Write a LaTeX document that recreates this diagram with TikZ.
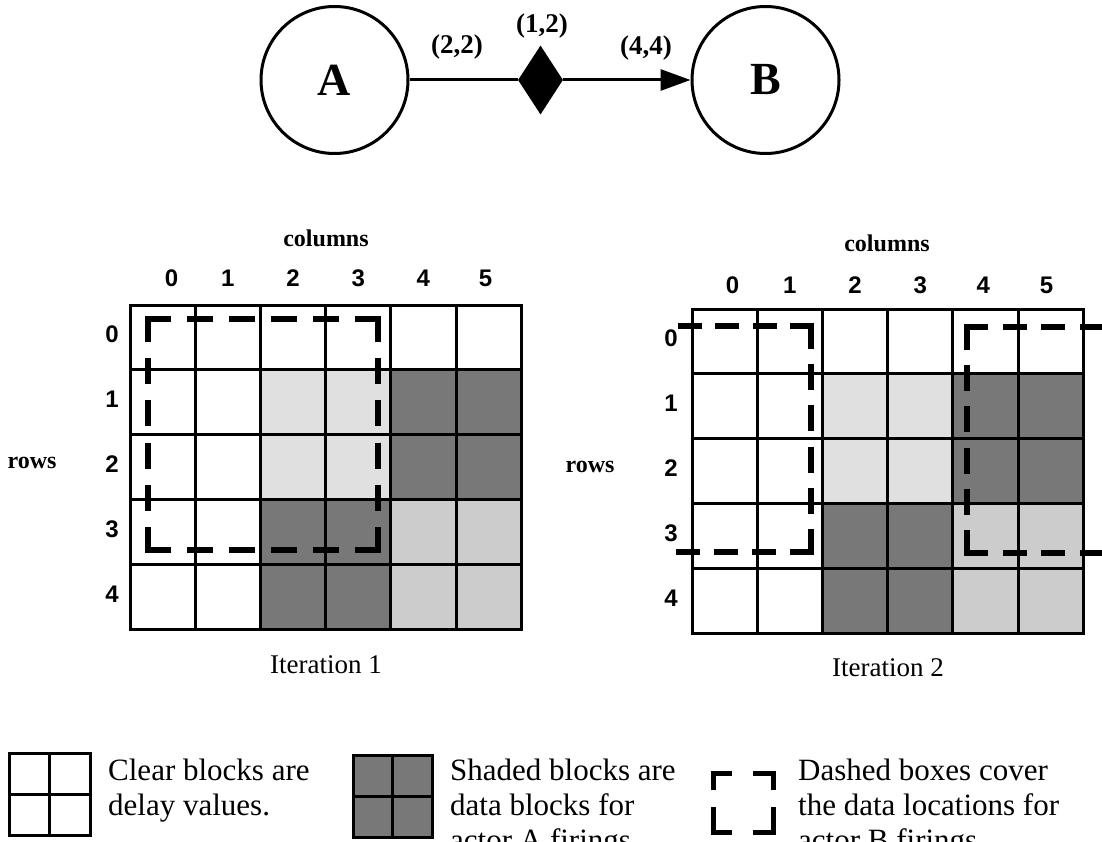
\documentclass[tikz,border=0pt]{standalone}
\usepackage{fontspec}
\setmainfont{Liberation Serif}
\newfontfamily\digitfont{Liberation Sans}
\usetikzlibrary{shapes.geometric,arrows.meta}
\definecolor{darkshade}{gray}{0.47}
\definecolor{lightA}{gray}{0.88}
\definecolor{lightB}{gray}{0.80}
\newcommand\cellw{65.2}
\newcommand\cellh{64.9}
\newcommand\datagrid[2]{%
  \begin{scope}[shift={(#1,#2)}]
    \fill[lightA] (2*\cellw,\cellh) rectangle (4*\cellw,3*\cellh);
    \fill[darkshade] (4*\cellw,\cellh) rectangle (6*\cellw,3*\cellh);
    \fill[darkshade] (2*\cellw,3*\cellh) rectangle (4*\cellw,5*\cellh);
    \fill[lightB] (4*\cellw,3*\cellh) rectangle (6*\cellw,5*\cellh);
    \foreach \i in {1,...,5} \draw[gridln] (\i*\cellw,0) -- (\i*\cellw,5*\cellh);
    \foreach \j in {1,...,4} \draw[gridln] (0,\j*\cellh) -- (6*\cellw,\j*\cellh);
    \draw[gridln] (0,0) rectangle (6*\cellw,5*\cellh);
  \end{scope}}
\begin{document}
\begin{tikzpicture}[x=1pt,y=-1pt,
  actor/.style={circle,draw,line width=3pt,minimum size=147pt,inner sep=0pt,font=\fontsize{46}{50}\selectfont\bfseries},
  delaynode/.style={diamond,fill=black,minimum width=45pt,minimum height=69pt,inner sep=0pt},
  elabel/.style={inner sep=0pt,font=\fontsize{27}{30}\selectfont\bfseries},
  edge/.style={line width=3pt},
  gridln/.style={line width=3pt},
  dashside/.style={line width=5.5pt,dash pattern=on 26pt off #1pt},
  dashshort/.style={line width=5.5pt,dash pattern=on 24pt off #1pt},
  digit/.style={inner sep=0pt,font=\digitfont\bfseries\fontsize{24}{28}\selectfont},
  axis/.style={inner sep=0pt,font=\fontsize{24}{28}\selectfont\bfseries},
  caption/.style={inner sep=0pt,font=\fontsize{27}{30}\selectfont},
  legend/.style={inner sep=0pt,anchor=base west,font=\fontsize{31}{35}\selectfont},
  bracket/.style={line width=5pt},
]
\useasboundingbox (0,0) rectangle (1102,842);

% ---- dataflow graph
\node[actor] (A) at (334.5,80) {A};
\node[actor] (B) at (765.5,80) {B};
\node[delaynode] (D) at (540.5,80) {};
\draw[edge] (A) -- (D);
\draw[edge,-{Triangle[length=30pt,width=21pt]}] (D) -- (B);
\node[elabel] (l22) at (457,47) {(2,2)};
\node[elabel] (l12) at (542,26) {(1,2)};
\node[elabel] (l44) at (646,48) {(4,4)};

% ---- iteration 1
\datagrid{130}{305}
\node[axis] (g1cols) at (326,238) {columns};
\foreach \c/\dx in {0/9,1/0,2/0,3/0,4/0,5/-3}
  \node[digit] (g1c\c) at ({130+(\c+0.5)*\cellw+\dx},278) {\c};
\foreach \r in {0,...,4}
  \node[digit] (g1r\r) at (112,{305+(\r+0.5)*\cellh-3}) {\r};
\node[axis] (g1rows) at (32,463) {rows};
\node[caption] (g1cap) at (326,665) {Iteration 1};
\draw[dashside=15.9] (145.25,319) -- (380.75,319);
\draw[dashside=16.1] (378,316.25) -- (378,552.75);
\draw[dashside=15.9] (380.75,550) -- (145.25,550);
\draw[dashside=16.1] (148,552.75) -- (148,316.25);

% ---- iteration 2
\datagrid{692}{309}
\node[axis] (g2cols) at (887,243) {columns};
\foreach \c/\dx in {0/8,1/0,2/0,3/0,4/-2,5/-4}
  \node[digit] (g2c\c) at ({692+(\c+0.5)*\cellw+\dx},285) {\c};
\foreach \r in {0,...,4}
  \node[digit] (g2r\r) at (671,{309+(\r+0.5)*\cellh-3}) {\r};
\node[axis] (g2rows) at (590,467) {rows};
\node[caption] (g2cap) at (888,668) {Iteration 2};
\draw[dashshort=13.25] (813.75,326) -- (678,326);
\draw[dashside=15.1] (811,323.25) -- (811,554.75);
\draw[dashshort=13.9] (813.75,552) -- (676,552);
\draw[dashshort=14.6] (964.25,327) -- (1104,327);
\draw[dashside=15.1] (967,324.25) -- (967,555.75);
\draw[dashshort=14.6] (964.25,553) -- (1104,553);

% ---- legend
\draw[gridln] (9,753) rectangle (90,835);
\draw[gridln] (49.5,753) -- (49.5,835);
\draw[gridln] (9,794) -- (90,794);
\node[legend] (t1a) at (108,780) {Clear blocks are};
\node[legend] (t1b) at (108,815) {delay values.};

\fill[darkshade] (353,755) rectangle (432,837);
\draw[gridln] (353,755) rectangle (432,837);
\draw[gridln] (392.5,755) -- (392.5,837);
\draw[gridln] (353,796) -- (432,796);
\node[legend] (t2a) at (450,780) {Shaded blocks are};
\node[legend] (t2b) at (450,815) {data blocks for};
\node[legend] (t2c) at (450,850) {actor A firings.};

\draw[bracket] (732,773) -- (713,773) -- (713,790);
\draw[bracket] (713,807) -- (713,832) -- (732,832);
\draw[bracket] (753,773) -- (773,773) -- (773,790);
\draw[bracket] (773,807) -- (773,832) -- (753,832);
\node[legend] (t3a) at (798,780) {Dashed boxes cover};
\node[legend] (t3b) at (798,815) {the data locations for};
\node[legend] (t3c) at (798,850) {actor B firings.};
\end{tikzpicture}
\end{document}
